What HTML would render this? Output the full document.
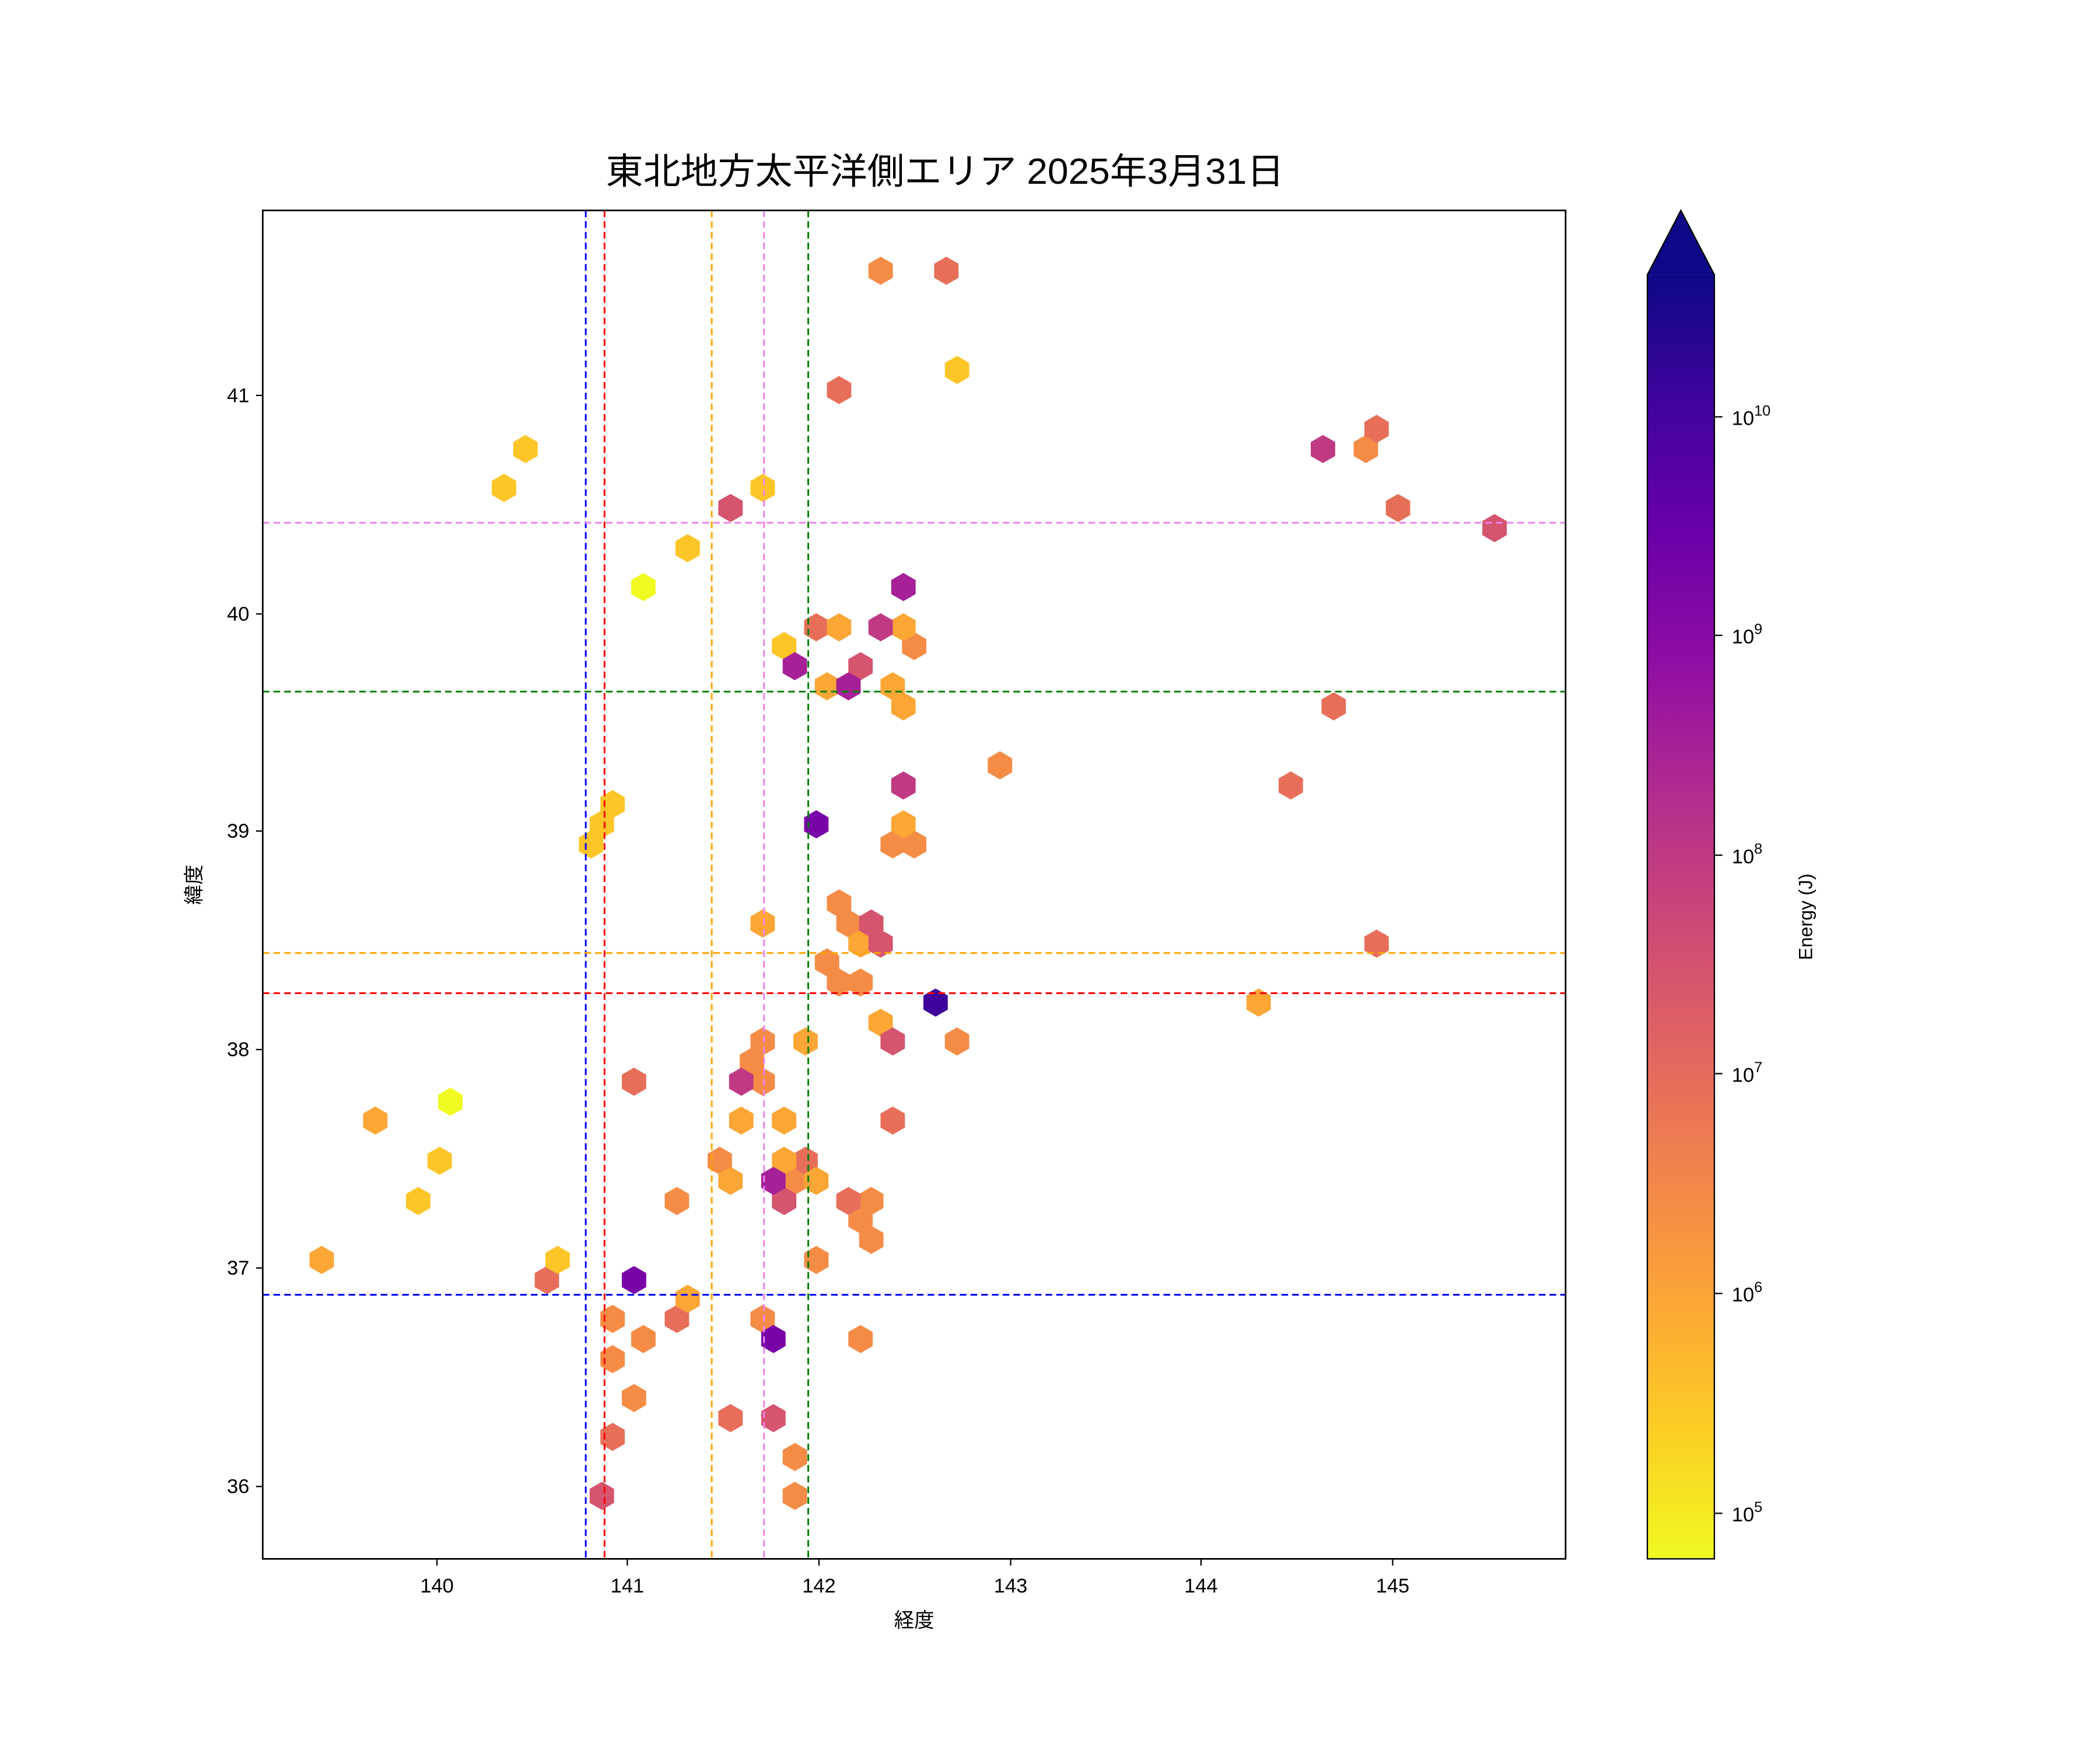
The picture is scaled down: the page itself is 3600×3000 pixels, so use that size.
<!DOCTYPE html>
<html><head><meta charset="utf-8"><style>html,body{margin:0;padding:0;background:#fff}svg{display:block}</style></head>
<body>
<svg width="3600" height="3000" viewBox="0 0 1566.7 1305.6" preserveAspectRatio="none" xmlns="http://www.w3.org/2000/svg" font-family="'Liberation Sans','Noto Sans CJK JP',sans-serif">
<defs>
<linearGradient id="pl" x1="0" y1="1" x2="0" y2="0">
<stop offset="0" stop-color="#f0f921"/><stop offset="0.1" stop-color="#fcce25"/><stop offset="0.2" stop-color="#fca636"/><stop offset="0.3" stop-color="#f2844b"/><stop offset="0.4" stop-color="#e16462"/><stop offset="0.5" stop-color="#cc4778"/><stop offset="0.6" stop-color="#b12a90"/><stop offset="0.7" stop-color="#8f0da4"/><stop offset="0.8" stop-color="#6a00a8"/><stop offset="0.9" stop-color="#41049d"/><stop offset="1" stop-color="#0d0887"/>
</linearGradient>
<polygon id="h" points="0,-10.5 9.1,-5.25 9.1,5.25 0,10.5 -9.1,5.25 -9.1,-5.25"/>
</defs>
<rect width="1570" height="1310" fill="#fff"/>
<text x="705" y="137" font-size="27" text-anchor="middle" textLength="506" lengthAdjust="spacingAndGlyphs">東北地方太平洋側エリア 2025年3月31日</text>
<g>
<g fill="#f58c46"><use href="#h" x="657" y="202"/><use href="#h" x="682" y="482"/><use href="#h" x="746" y="571"/><use href="#h" x="666" y="630"/><use href="#h" x="682" y="630"/><use href="#h" x="626" y="674"/><use href="#h" x="633" y="689"/><use href="#h" x="617" y="718"/><use href="#h" x="626" y="733"/><use href="#h" x="642" y="733"/><use href="#h" x="569" y="777"/><use href="#h" x="714" y="777"/><use href="#h" x="561" y="792"/><use href="#h" x="569" y="807"/><use href="#h" x="537" y="866"/><use href="#h" x="593" y="881"/><use href="#h" x="505" y="896"/><use href="#h" x="650" y="896"/><use href="#h" x="642" y="910"/><use href="#h" x="650" y="925"/><use href="#h" x="609" y="940"/><use href="#h" x="457" y="984"/><use href="#h" x="569" y="984"/><use href="#h" x="480" y="999"/><use href="#h" x="642" y="999"/><use href="#h" x="457" y="1014"/><use href="#h" x="473" y="1043"/><use href="#h" x="593" y="1087"/><use href="#h" x="593" y="1116"/><use href="#h" x="1019" y="335"/></g>
<g fill="#e76f5a"><use href="#h" x="706" y="202"/><use href="#h" x="626" y="291"/><use href="#h" x="609" y="468"/><use href="#h" x="473" y="807"/><use href="#h" x="666" y="836"/><use href="#h" x="601" y="866"/><use href="#h" x="633" y="896"/><use href="#h" x="408" y="955"/><use href="#h" x="505" y="984"/><use href="#h" x="545" y="1058"/><use href="#h" x="457" y="1072"/><use href="#h" x="1027" y="320"/><use href="#h" x="1043" y="379"/><use href="#h" x="995" y="527"/><use href="#h" x="963" y="586"/><use href="#h" x="1027" y="704"/></g>
<g fill="#fca636"><use href="#h" x="626" y="468"/><use href="#h" x="674" y="468"/><use href="#h" x="617" y="512"/><use href="#h" x="666" y="512"/><use href="#h" x="674" y="527"/><use href="#h" x="674" y="615"/><use href="#h" x="569" y="689"/><use href="#h" x="642" y="704"/><use href="#h" x="657" y="763"/><use href="#h" x="601" y="777"/><use href="#h" x="553" y="836"/><use href="#h" x="585" y="836"/><use href="#h" x="280" y="836"/><use href="#h" x="585" y="866"/><use href="#h" x="545" y="881"/><use href="#h" x="609" y="881"/><use href="#h" x="240" y="940"/><use href="#h" x="513" y="969"/><use href="#h" x="939" y="748"/></g>
<g fill="#fdc527"><use href="#h" x="714" y="276"/><use href="#h" x="392" y="335"/><use href="#h" x="376" y="364"/><use href="#h" x="569" y="364"/><use href="#h" x="513" y="409"/><use href="#h" x="585" y="482"/><use href="#h" x="457" y="600"/><use href="#h" x="449" y="615"/><use href="#h" x="441" y="630"/><use href="#h" x="328" y="866"/><use href="#h" x="312" y="896"/><use href="#h" x="416" y="940"/></g>
<g fill="#f0f921"><use href="#h" x="480" y="438"/><use href="#h" x="336" y="822"/></g>
<g fill="#d5546e"><use href="#h" x="545" y="379"/><use href="#h" x="642" y="497"/><use href="#h" x="650" y="689"/><use href="#h" x="657" y="704"/><use href="#h" x="666" y="777"/><use href="#h" x="585" y="896"/><use href="#h" x="577" y="1058"/><use href="#h" x="449" y="1116"/><use href="#h" x="1115" y="394"/></g>
<g fill="#c03a83"><use href="#h" x="657" y="468"/><use href="#h" x="674" y="586"/><use href="#h" x="553" y="807"/><use href="#h" x="987" y="335"/></g>
<g fill="#a62098"><use href="#h" x="674" y="438"/><use href="#h" x="593" y="497"/><use href="#h" x="633" y="512"/><use href="#h" x="577" y="881"/></g>
<g fill="#7a03a8"><use href="#h" x="609" y="615"/><use href="#h" x="473" y="955"/><use href="#h" x="577" y="999"/></g>
<use href="#h" x="698" y="748" fill="#3e049c"/>
</g>
<g stroke-width="1.3" stroke-dasharray="5,3" fill="none">
<line x1="437" y1="157" x2="437" y2="1163" stroke="blue"/>
<line x1="451" y1="157" x2="451" y2="1163" stroke="red"/>
<line x1="531" y1="157" x2="531" y2="1163" stroke="orange"/>
<line x1="570" y1="157" x2="570" y2="1163" stroke="violet"/>
<line x1="603" y1="157" x2="603" y2="1163" stroke="green"/>
<line x1="196" y1="390" x2="1168" y2="390" stroke="violet"/>
<line x1="196" y1="516" x2="1168" y2="516" stroke="green"/>
<line x1="196" y1="711" x2="1168" y2="711" stroke="orange"/>
<line x1="196" y1="741" x2="1168" y2="741" stroke="red"/>
<line x1="196" y1="966" x2="1168" y2="966" stroke="blue"/>
</g>
<rect x="196" y="157" width="972" height="1006" fill="none" stroke="#000" stroke-width="1.2"/>
<g stroke="#000" stroke-width="1">
<line x1="326" y1="1163" x2="326" y2="1168"/><line x1="468" y1="1163" x2="468" y2="1168"/><line x1="611" y1="1163" x2="611" y2="1168"/><line x1="754" y1="1163" x2="754" y2="1168"/><line x1="896" y1="1163" x2="896" y2="1168"/><line x1="1039" y1="1163" x2="1039" y2="1168"/>
<line x1="191" y1="295" x2="196" y2="295"/><line x1="191" y1="458" x2="196" y2="458"/><line x1="191" y1="620" x2="196" y2="620"/><line x1="191" y1="783" x2="196" y2="783"/><line x1="191" y1="946" x2="196" y2="946"/><line x1="191" y1="1109" x2="196" y2="1109"/>
</g>
<g font-size="15" text-anchor="middle">
<text x="326" y="1188">140</text><text x="468" y="1188">141</text><text x="611" y="1188">142</text><text x="754" y="1188">143</text><text x="896" y="1188">144</text><text x="1039" y="1188">145</text>
</g>
<g font-size="15" text-anchor="end">
<text x="186" y="300">41</text><text x="186" y="463">40</text><text x="186" y="625">39</text><text x="186" y="788">38</text><text x="186" y="951">37</text><text x="186" y="1114">36</text>
</g>
<text x="682" y="1214" font-size="15" text-anchor="middle">経度</text>
<text transform="translate(150,660) rotate(-90)" font-size="15" text-anchor="middle">緯度</text>
<rect x="1229" y="205" width="50" height="958" fill="url(#pl)"/>
<polygon points="1229,205 1254,157 1279,205" fill="#0d0887"/>
<polygon points="1229,1163 1229,205 1254,157 1279,205 1279,1163" fill="none" stroke="#000" stroke-width="1"/>
<g stroke="#000" stroke-width="1">
<line x1="1279" y1="1129" x2="1285" y2="1129"/><line x1="1279" y1="965" x2="1285" y2="965"/><line x1="1279" y1="801" x2="1285" y2="801"/><line x1="1279" y1="638" x2="1285" y2="638"/><line x1="1279" y1="474" x2="1285" y2="474"/><line x1="1279" y1="311" x2="1285" y2="311"/>
</g>
<g font-size="15">
<text x="1292" y="1135">10<tspan font-size="11" dy="-7">5</tspan></text>
<text x="1292" y="971">10<tspan font-size="11" dy="-7">6</tspan></text>
<text x="1292" y="807">10<tspan font-size="11" dy="-7">7</tspan></text>
<text x="1292" y="644">10<tspan font-size="11" dy="-7">8</tspan></text>
<text x="1292" y="480">10<tspan font-size="11" dy="-7">9</tspan></text>
<text x="1292" y="317">10<tspan font-size="11" dy="-7">10</tspan></text>
</g>
<text transform="translate(1352,684) rotate(-90)" font-size="14" text-anchor="middle">Energy (J)</text>
</svg>
</body></html>
